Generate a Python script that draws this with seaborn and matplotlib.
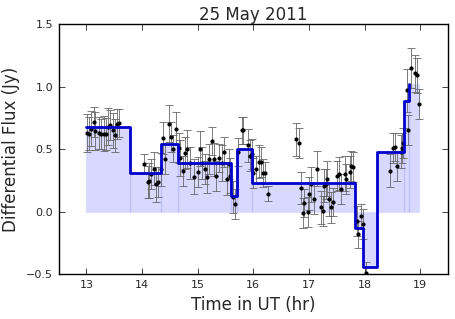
import numpy as np
import pandas as pd
import seaborn as sns
from matplotlib import pyplot as plt

# Bayesian-block style light curve
block_edges = [13.0, 13.79, 14.35, 14.65, 15.60, 15.70, 15.97, 17.82, 17.98, 18.23, 18.71, 18.80, 18.97]
block_flux = [0.68, 0.31, 0.545, 0.39, 0.13, 0.505, 0.23, -0.127, -0.44, 0.476, 0.886, 1.02]

time = [13.01, 13.04, 13.08, 13.13, 13.15, 13.23, 13.26, 13.31, 13.35, 13.39, 13.42, 13.48, 13.51, 13.56, 13.585,
        14.03, 14.10, 14.12, 14.17, 14.22, 14.25, 14.28, 14.34,
        14.38, 14.41, 14.48, 14.52, 14.55, 14.615, 14.66, 14.69, 14.73, 14.78, 14.81, 14.87, 14.94, 15.00,
        15.05, 15.08, 15.14, 15.17, 15.20, 15.26, 15.29, 15.33, 15.38, 15.44, 15.48, 15.53, 15.56, 15.59,
        15.64, 15.68, 15.73, 15.79, 15.82, 15.90, 15.94, 15.97, 16.00, 16.05, 16.10, 16.14, 16.18, 16.21, 16.26,
        16.76, 16.82, 16.85, 16.90, 16.92, 16.99, 17.01, 17.045, 17.10, 17.15, 17.21, 17.25, 17.28, 17.31, 17.33,
        17.37, 17.40, 17.43, 17.51, 17.54, 17.58, 17.64, 17.67, 17.73, 17.76, 17.79,
        17.86, 17.89, 17.94, 17.97, 18.03,
        18.46, 18.51, 18.54, 18.58, 18.65, 18.67, 18.70, 18.76, 18.79, 18.83, 18.91, 18.945, 18.98]
flux = [0.63, 0.625, 0.665, 0.72, 0.645, 0.63, 0.625, 0.625, 0.62, 0.68, 0.69, 0.65, 0.61, 0.705, 0.71,
        0.385, 0.24, 0.25, 0.30, 0.345, 0.22, 0.24, 0.34,
        0.59, 0.42, 0.705, 0.60, 0.505, 0.665, 0.51, 0.43, 0.33, 0.47, 0.50, 0.39, 0.28, 0.32,
        0.505, 0.39, 0.345, 0.28, 0.425, 0.565, 0.42, 0.285, 0.43, 0.39, 0.48, 0.265, 0.38, 0.29,
        0.12, 0.06, 0.48, 0.65, 0.65, 0.53, 0.45, 0.465, 0.31, 0.34, 0.40, 0.40, 0.31, 0.31, 0.145,
        0.58, 0.55, 0.19, -0.01, 0.07, 0.00, 0.145, 0.22, 0.105, 0.345, 0.035, 0.006, 0.21, 0.22, 0.265,
        0.10, 0.035, 0.08, 0.29, 0.305, 0.18, 0.305, 0.26, 0.32, 0.365, 0.36,
        -0.076, -0.18, -0.036, -0.10, -0.485,
        0.33, 0.51, 0.52, 0.365, 0.48, 0.51, 0.55, 0.97, 0.65, 1.15, 1.105, 1.09, 0.86]
flux_err = [0.15, 0.13, 0.14, 0.12, 0.15, 0.13, 0.12, 0.14, 0.13, 0.15, 0.12, 0.14, 0.13, 0.12, 0.11,
            0.08, 0.13, 0.14, 0.12, 0.13, 0.14, 0.12, 0.13,
            0.13, 0.12, 0.15, 0.12, 0.11, 0.13, 0.12, 0.14, 0.12, 0.13, 0.15, 0.13, 0.14, 0.12,
            0.14, 0.13, 0.12, 0.13, 0.12, 0.11, 0.13, 0.12, 0.11, 0.14, 0.12, 0.13, 0.12, 0.14,
            0.13, 0.12, 0.11, 0.11, 0.11, 0.13, 0.12, 0.12, 0.12, 0.11, 0.13, 0.12, 0.11, 0.09, 0.06,
            0.13, 0.12, 0.13, 0.12, 0.11, 0.12, 0.13, 0.14, 0.12, 0.14, 0.13, 0.12, 0.13, 0.12, 0.14,
            0.13, 0.12, 0.11, 0.12, 0.13, 0.12, 0.14, 0.12, 0.13, 0.12, 0.12,
            0.12, 0.11, 0.10, 0.12, 0.085,
            0.13, 0.12, 0.11, 0.12, 0.13, 0.12, 0.12, 0.17, 0.12, 0.16, 0.15, 0.14, 0.12]

df = pd.DataFrame({'time': time, 'flux': flux, 'err': flux_err})
blocks = pd.DataFrame({'start': block_edges[:-1], 'flux': block_flux})

sns.set_style('white', {'xtick.direction': 'in', 'ytick.direction': 'in',
                        'axes.edgecolor': 'black', 'xtick.top': True, 'ytick.right': True,
                        'xtick.bottom': True, 'ytick.left': True})
plt.rcParams['font.family'] = ['DejaVu Sans']

fig = plt.figure(figsize=(4.55, 3.19), dpi=100)
ax = fig.add_axes([0.1286, 0.1395, 0.856, 0.7853])

# filled blocks
widths = np.diff(block_edges)
ax.bar(block_edges[:-1], block_flux, width=widths, align='edge',
       color=(0, 0, 1, 0.15), edgecolor=(0, 0, 1, 0.06), linewidth=1.0, zorder=1)

# data points
ax.errorbar(df['time'], df['flux'], yerr=df['err'], fmt='o', color='k', markersize=2,
            ecolor='#666666', elinewidth=0.6, capsize=3, capthick=0.6, zorder=2)

# block outline
sns.lineplot(data=blocks, x='start', y='flux', drawstyle='steps-post', color='#0000cc',
             linewidth=2, ax=ax, zorder=3)

ax.set_xlim(12.5, 19.5)
ax.set_ylim(-0.5, 1.5)
ax.set_xticks(np.arange(13, 20, 1))
ax.set_yticks([-0.5, 0.0, 0.5, 1.0, 1.5])
ax.set_yticklabels(['\u22120.5', '0.0', '0.5', '1.0', '1.5'])
ax.tick_params(axis='both', which='major', labelsize=8, length=4, width=0.6,
               direction='in', top=True, right=True, pad=4)
for s in ax.spines.values():
    s.set_linewidth(1.0)
    s.set_color('black')

ax.set_xlabel('Time in UT (hr)', fontsize=12)
ax.set_ylabel('Differential Flux (Jy)', fontsize=12)
ax.set_title('25 May 2011', fontsize=12, pad=3)

fig.savefig('out.png', dpi=100)
